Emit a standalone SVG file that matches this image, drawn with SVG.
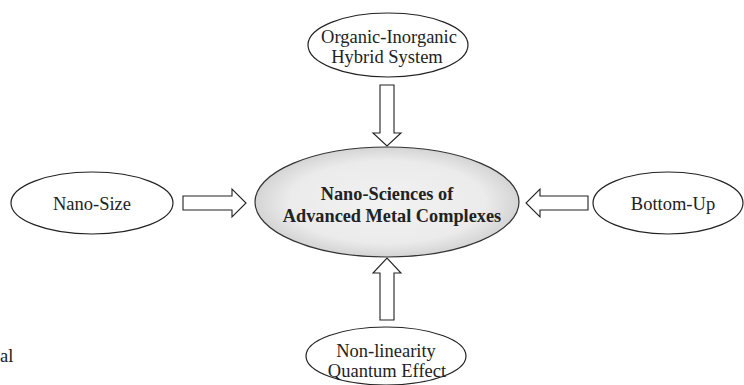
<svg xmlns="http://www.w3.org/2000/svg" width="744" height="385" viewBox="0 0 744 385">
<defs>
<radialGradient id="cg" cx="50%" cy="50%" r="50%">
<stop offset="0%" stop-color="#f2f2f2"/>
<stop offset="75%" stop-color="#ebebeb"/>
<stop offset="100%" stop-color="#d4d4d4"/>
</radialGradient>
</defs>
<style>
.n{fill:#fff;stroke:#222;stroke-width:1.2}
.t{font-family:"Liberation Serif","Times New Roman",serif;font-size:18.5px;fill:#222;text-anchor:middle}
.b{font-weight:bold;font-size:18.3px}
.a{fill:#fff;stroke:#222;stroke-width:1.1}
</style>
<rect width="744" height="385" fill="#fff"/>
<g id="connectors">
<polygon class="a" points="380,85 394,85 394,133 401,133 387,146 373,133 380,133"/>
<polygon class="a" points="183,196 232,196 232,189 246,203 232,217 232,210 183,210"/>
<polygon class="a" points="588,196 540,196 540,189 526,203 540,217 540,210 588,210"/>
<polygon class="a" points="380,320 394,320 394,273 401,273 387,258 373,273 380,273"/>
</g>
<g id="center">
<ellipse cx="387" cy="202" rx="132" ry="55" fill="url(#cg)" stroke="#333" stroke-width="1.2"/>
<text class="t b" x="387" y="200">Nano-Sciences of</text>
<text class="t b" x="392" y="222">Advanced Metal Complexes</text>
</g>
<g id="top">
<ellipse class="n" cx="388" cy="45" rx="80" ry="32"/>
<text class="t" x="389" y="43">Organic-Inorganic</text>
<text class="t" x="387" y="63">Hybrid System</text>
</g>
<g id="left">
<ellipse class="n" cx="92" cy="203" rx="81" ry="31"/>
<text class="t" x="92" y="210">Nano-Size</text>
</g>
<g id="right">
<ellipse class="n" cx="668" cy="203" rx="75" ry="31"/>
<text class="t" x="673" y="210">Bottom-Up</text>
</g>
<g id="bottom">
<ellipse class="n" cx="386" cy="356" rx="80" ry="29"/>
<text class="t" x="386" y="357">Non-linearity</text>
<text class="t" x="387" y="377">Quantum Effect</text>
</g>
<text class="t" x="0" y="362" style="text-anchor:start">al</text>
</svg>
